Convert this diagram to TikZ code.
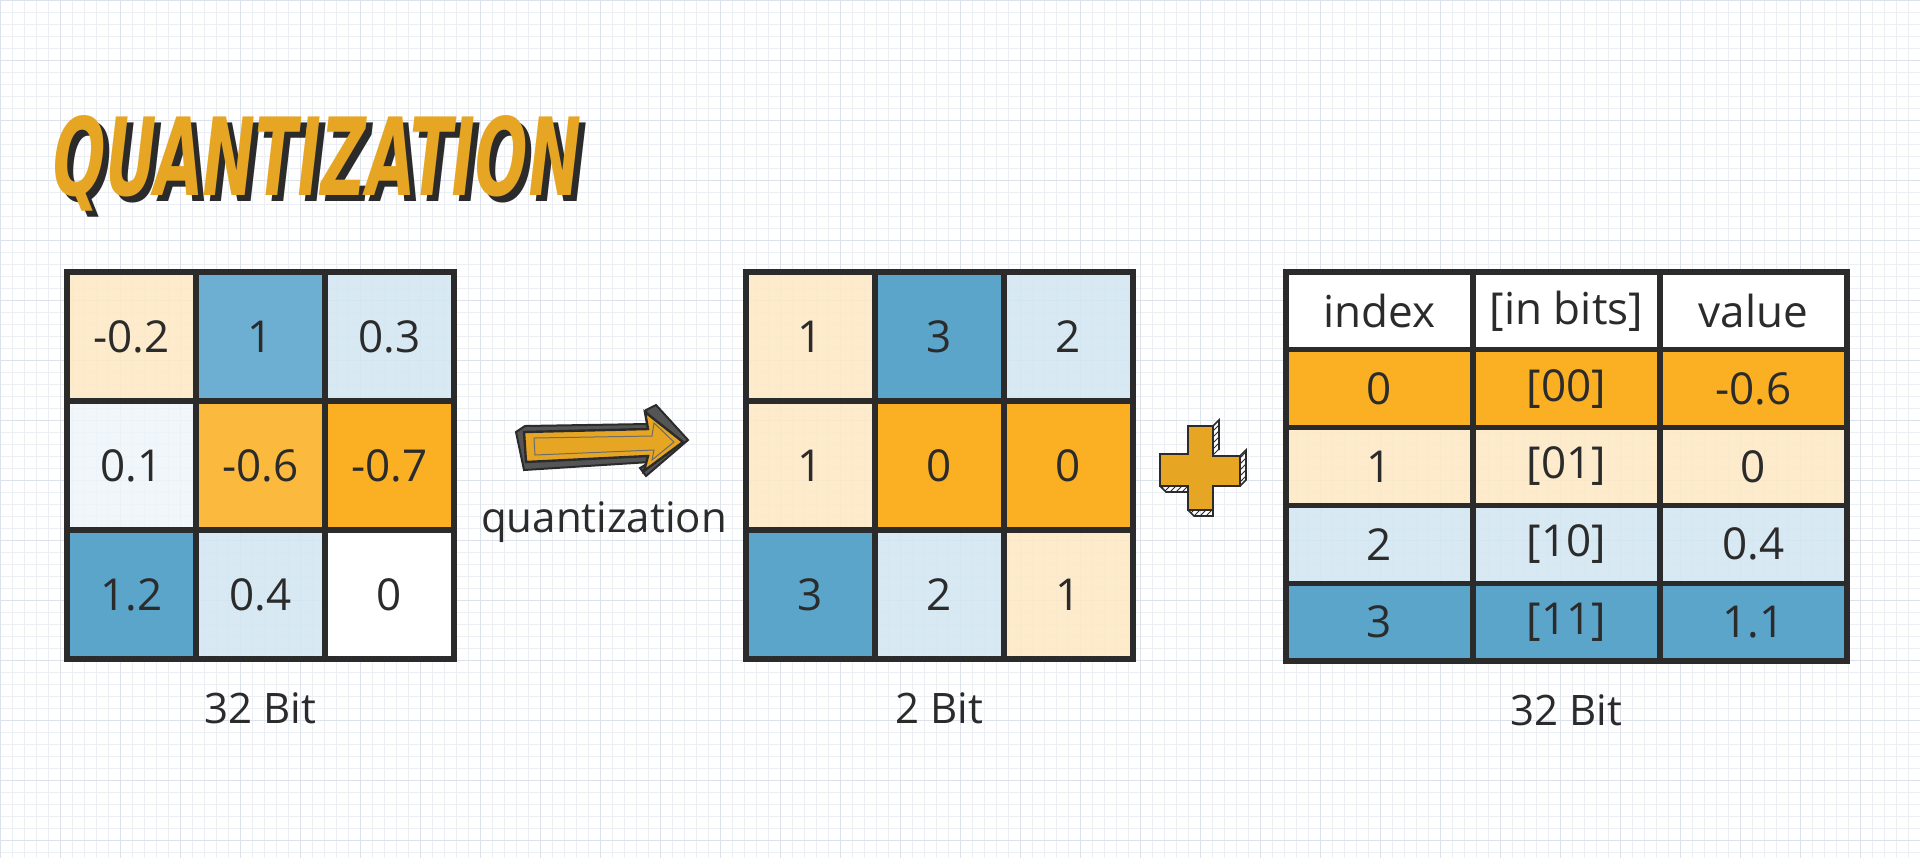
\documentclass[tikz,border=0pt]{standalone}
\usepackage{fontspec}
\setmainfont{Open Sans}
\newfontfamily\titlefont[FakeSlant=0.18]{DejaVu Sans Condensed Bold}
\usetikzlibrary{patterns}
\definecolor{lor}{HTML}{FDE8C4}
\definecolor{blu}{HTML}{5BA5CA}
\definecolor{blu2}{HTML}{6DAFD2}
\definecolor{lbl}{HTML}{D2E6F1}
\definecolor{vlb}{HTML}{EEF5FA}
\definecolor{org}{HTML}{FBB024}
\definecolor{org2}{HTML}{FBBA3E}
\definecolor{gold}{HTML}{E6A623}
\definecolor{ink}{HTML}{2B2B2B}
\definecolor{gridc}{HTML}{D3DBE6}
\begin{document}
\begin{tikzpicture}[x=0.5pt,y=-0.5pt,
  cell/.style={draw=ink,line width=2.6pt,minimum width=64.5pt,minimum height=64.5pt,inner sep=0pt,font=\fontsize{22}{26}\selectfont,text=ink,text opacity=1},
  solid/.style={fill opacity=1},
  lite/.style={fill opacity=0.85},
  tcell/.style={cell,minimum width=93.5pt,minimum height=38.9pt},
  lbl/.style={font=\fontsize{21}{25}\selectfont,text=ink}]
\useasboundingbox (0,0) rectangle (1920,858);
\fill[white] (0,0) rectangle (1920,858);
\foreach \i in {0,12,...,1920} \draw[gridc!45,line width=0.4pt] (\i,0)--(\i,858);
\foreach \i in {0,12,...,858} \draw[gridc!45,line width=0.4pt] (0,\i)--(1920,\i);
\foreach \i in {0,60,...,1920} \draw[gridc!80,line width=0.5pt] (\i,0)--(\i,858);
\foreach \i in {0,60,...,858} \draw[gridc!80,line width=0.5pt] (0,\i)--(1920,\i);
% title
\node[anchor=base west,inner sep=0pt,text=ink] (tsh) at (54,201) {\resizebox{264pt}{40pt}{\titlefont QUANTIZATION}};
\node[anchor=base west,inner sep=0pt,text=gold] (title) at (48,195) {\resizebox{264pt}{40pt}{\titlefont QUANTIZATION}};
% grid 1
\foreach \r/\c/\col/\t/\s in {1/1/lor/-0.2/lite,1/2/blu2/1/solid,1/3/lbl/0.3/lite,2/1/vlb/0.1/lite,2/2/org2/-0.6/solid,2/3/org/-0.7/solid,3/1/blu/1.2/solid,3/2/lbl/0.4/lite,3/3/white/0/solid}
  \node[cell,\s,fill=\col] (a\r\c) at ({67+129*(\c-0.5)},{272+129*(\r-0.5)}) {\t};
% grid 2
\foreach \r/\c/\col/\t/\s in {1/1/lor/1/lite,1/2/blu/3/solid,1/3/lbl/2/lite,2/1/lor/1/lite,2/2/org/0/solid,2/3/org/0/solid,3/1/blu/3/solid,3/2/lbl/2/lite,3/3/lor/1/lite}
  \node[cell,\s,fill=\col] (b\r\c) at ({746+129*(\c-0.5)},{272+129*(\r-0.5)}) {\t};
% table
\foreach \r/\col/\x/\y/\z/\s in {1/white/index/[in bits]/value/solid,2/org/0/[00]/-0.6/solid,3/lor/1/[01]/0/lite,4/lbl/2/[10]/0.4/lite,5/blu/3/[11]/1.1/solid}{
  \node[tcell,\s,fill=\col] (t\r1) at (1379.5,{272+77.8*(\r-0.5)}) {\x};
  \node[tcell,\s,fill=\col] (t\r2) at (1566.5,{272+77.8*(\r-0.5)}) {\y};
  \node[tcell,\s,fill=\col] (t\r3) at (1753.5,{272+77.8*(\r-0.5)}) {\z};}
\node[lbl] (l1) at (a32.south) [below=12pt] {32 Bit};
\node[lbl] (l2) at (b32.south) [below=12pt] {2 Bit};
\node[lbl] (l3) at (t52.south) [below=12pt] {32 Bit};
% arrow
\filldraw[fill=ink!80,draw=ink,line width=1pt] (516,432)--(525,426)--(648,424)--(646,410)--(656,405)--(688,440)--(646,476)--(640,468)--(650,462)--(524,470)--cycle;
\filldraw[fill=gold,draw=ink,line width=1.2pt] (524,432)--(648,429)--(645,412)--(683,442)--(644,471)--(648,456)--(526,462)--cycle;
\draw[ink!70,line width=0.5pt] (534,438)--(652,436)--(654,423)--(674,442)--(652,460)--(654,450)--(535,455)--cycle;
\node[lbl] (q) at (604,522) {quantization};
% plus
\begin{scope}[shift={(1200,468)}]
\fill[pattern=north east lines,pattern color=ink] (40,-12)--(46,-18)--(46,12)--(40,18)--cycle (13,-42)--(19,-48)--(19,-18)--(13,-12)--cycle (-40,18)--(-34,24)--(-12,24)--(-12,18)--cycle (-12,42)--(-6,48)--(13,48)--(13,42)--cycle;
\filldraw[fill=gold,draw=ink,line width=0.8pt] (-12,-42)--(-12,-14)--(-40,-14)--(-40,18)--(-12,18)--(-12,42)--(13,42)--(13,18)--(40,18)--(40,-12)--(13,-12)--(13,-42)--cycle;
\draw[ink,line width=0.8pt] (40,-12)--(46,-18)--(46,12)--(40,18) (13,-42)--(19,-48)--(19,-18) (-40,18)--(-34,24)--(-12,24) (-12,42)--(-6,48)--(13,48)--(13,42);
\end{scope}
\end{tikzpicture}
\end{document}
